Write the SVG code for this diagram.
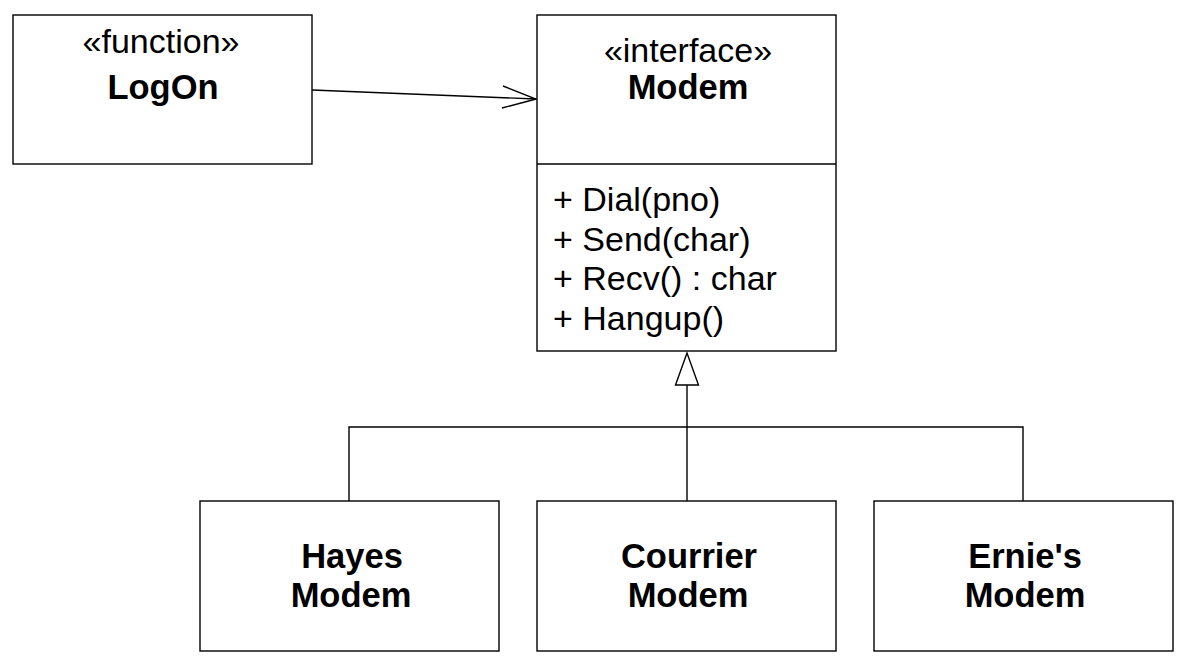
<svg xmlns="http://www.w3.org/2000/svg" width="1188" height="665" viewBox="0 0 1188 665">
<style>
.box{fill:#fff;stroke:#000;stroke-width:1.4}
.ln{fill:none;stroke:#000;stroke-width:1.4}
text{font-family:"Liberation Sans",Arial,sans-serif;font-size:34px;fill:#000}
.c{text-anchor:middle}
.b{font-weight:bold;font-size:34.5px}
.m{font-size:34px}
</style>
<rect width="1188" height="665" fill="#fff"/>
<g id="connectors">
<line class="ln" x1="312" y1="90" x2="536" y2="99"/>
<polyline class="ln" points="503,86 536,99 502,108"/>
<line class="ln" x1="687" y1="385" x2="687" y2="501"/>
<polyline class="ln" points="349,501 349,427 1023,427 1023,501"/>
<polygon class="box" points="687,353 675.5,385 698.5,385"/>
</g>
<g id="LogOn">
<rect class="box" x="13" y="15" width="299" height="149"/>
<text class="c" x="161" y="53">«function»</text>
<text class="c b" x="163" y="99">LogOn</text>
</g>
<g id="Modem">
<rect class="box" x="537" y="15" width="299" height="336"/>
<line class="ln" x1="537" y1="164" x2="836" y2="164"/>
<text class="c" x="688" y="62">«interface»</text>
<text class="c b" x="688" y="99">Modem</text>
<text class="m" x="553" y="211">+ Dial(pno)</text>
<text class="m" x="553" y="251">+ Send(char)</text>
<text class="m" x="553" y="290">+ Recv() : char</text>
<text class="m" x="553" y="330">+ Hangup()</text>
</g>
<g id="HayesModem">
<rect class="box" x="200" y="501" width="299" height="150"/>
<text class="c b" x="352" y="568">Hayes</text>
<text class="c b" x="351" y="607">Modem</text>
</g>
<g id="CourrierModem">
<rect class="box" x="537" y="501" width="299" height="150"/>
<text class="c b" x="689" y="568">Courrier</text>
<text class="c b" x="688" y="607">Modem</text>
</g>
<g id="ErniesModem">
<rect class="box" x="874" y="501" width="299" height="150"/>
<text class="c b" x="1025" y="568">Ernie's</text>
<text class="c b" x="1025" y="607">Modem</text>
</g>
</svg>
